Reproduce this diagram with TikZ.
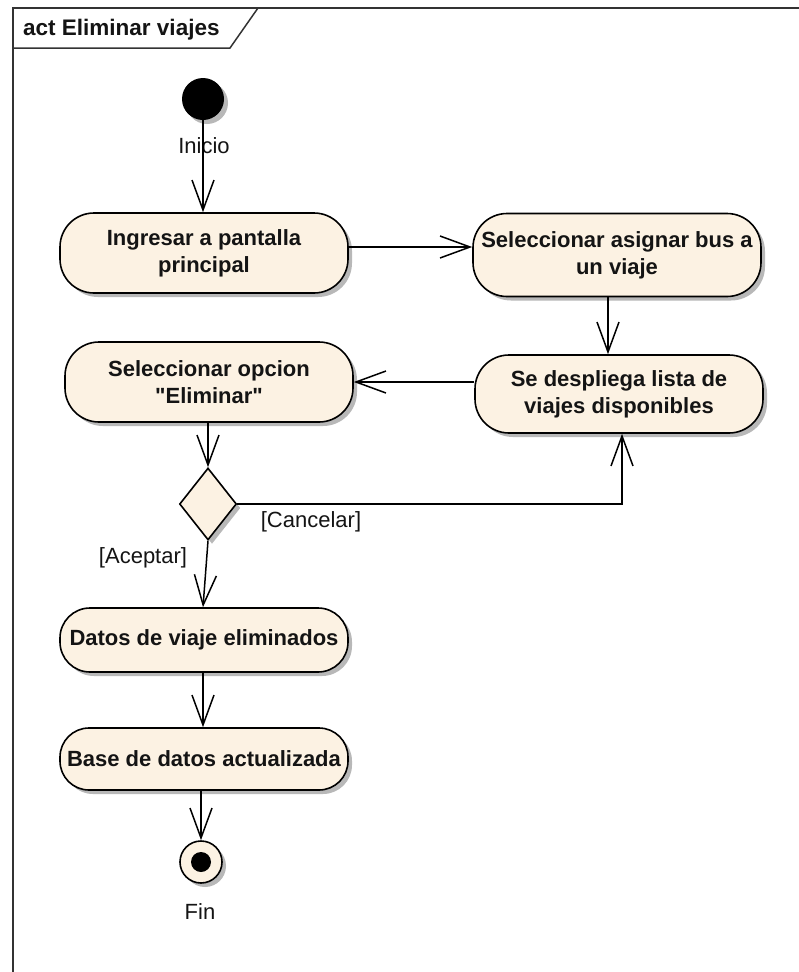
\documentclass[tikz,border=0pt]{standalone}
\usepackage{fontspec}
\setmainfont[Ligatures=TeXOff]{Liberation Sans}
\usetikzlibrary{arrows.meta,shapes.geometric,shadows}
\definecolor{actfill}{RGB}{252,242,227}
\definecolor{txt}{RGB}{20,20,20}
\begin{document}
\begin{tikzpicture}[x=1pt,y=-1pt,
  shad/.style={drop shadow={shadow xshift=4pt, shadow yshift=-4pt, fill=black!28, opacity=1}},
  act/.style={draw=black, line width=1.6pt, fill=actfill, rounded corners=34pt,
    minimum width=288pt, minimum height=80pt, align=center,
    font=\fontsize{22}{27}\selectfont\bfseries, text=txt, inner sep=0pt, shad},
  arr/.style={line width=1.5pt, -{Straight Barb[length=30pt,width=22pt,line width=1.5pt]}},
  lbl/.style={font=\fontsize{22}{26}\selectfont, text=txt, inner sep=0pt},
]
\useasboundingbox (0,0) rectangle (799,972);
\fill[white] (0,0) rectangle (799,972);
% frame
\draw[line width=1.5pt, draw=black!80] (13,980) -- (13,8) -- (805,8);
\draw[line width=1.5pt, draw=black!80] (13,48) -- (230,48) -- (258,8);
\node[anchor=west, font=\fontsize{22.5}{26}\selectfont\bfseries, text=txt, inner sep=0pt] (title) at (23,30) {act Eliminar viajes};

% nodes
\node[circle, fill=black, minimum size=42pt, inner sep=0pt, shad] (init) at (203,99) {};
\node[lbl] (linicio) at (204,146) {Inicio};
\node[act, minimum height=80pt] (n1) at (204,253) {Ingresar a pantalla\\principal};
\node[act, minimum height=83pt] (n2) at (617,255) {Seleccionar asignar bus a\\un viaje};
\node[act, minimum height=78pt] (n3) at (619,394) {Se despliega lista de\\viajes disponibles};
\node[act, minimum height=80pt] (n4) at (209,382) {Seleccionar opcion\\"Eliminar"};
\node[diamond, draw=black, line width=1.6pt, fill=actfill, minimum width=57pt, minimum height=72pt, inner sep=0pt, shad] (d) at (208,504) {};
\node[lbl] (lcan) at (311,522) {[Cancelar]};
\node[lbl] (lacep) at (143,558) {[Aceptar]};
\node[act, minimum height=64pt, rounded corners=30pt] (n5) at (204,640) {Datos de viaje eliminados};
\node[act, minimum height=62pt, rounded corners=29pt] (n6) at (204,759) {Base de datos actualizada};
\node[circle, draw=black, line width=1.6pt, fill=actfill, minimum size=42pt, inner sep=0pt, shad] (fin) at (201,862) {};
\node[circle, fill=black, minimum size=20pt, inner sep=0pt] (findot) at (fin) {};
\node[lbl] (lfin) at (200,912) {Fin};

% connectors
\draw[arr] (init.south) -- (init.south |- n1.north);
\draw[arr] ([yshift=6pt]n1.east) -- ([yshift=6pt]n1.east -| n2.west);
\draw[arr] ([xshift=-9pt]n2.south) -- ([xshift=-9pt]n2.south |- n3.north);
\draw[arr] (n3.west |- n4.east) -- (n4.east);
\draw[arr] (n4.south -| d.north) -- (d.north);
\draw[arr] (d.east) -| ([xshift=3pt]n3.south);
\draw[arr] (d.south) -- ([xshift=-1pt]n5.north);
\draw[arr] ([xshift=-1pt]n5.south) -- ([xshift=-1pt]n6.north);
\draw[arr] (n6.south -| fin.north) -- (fin.north);
\end{tikzpicture}
\end{document}
